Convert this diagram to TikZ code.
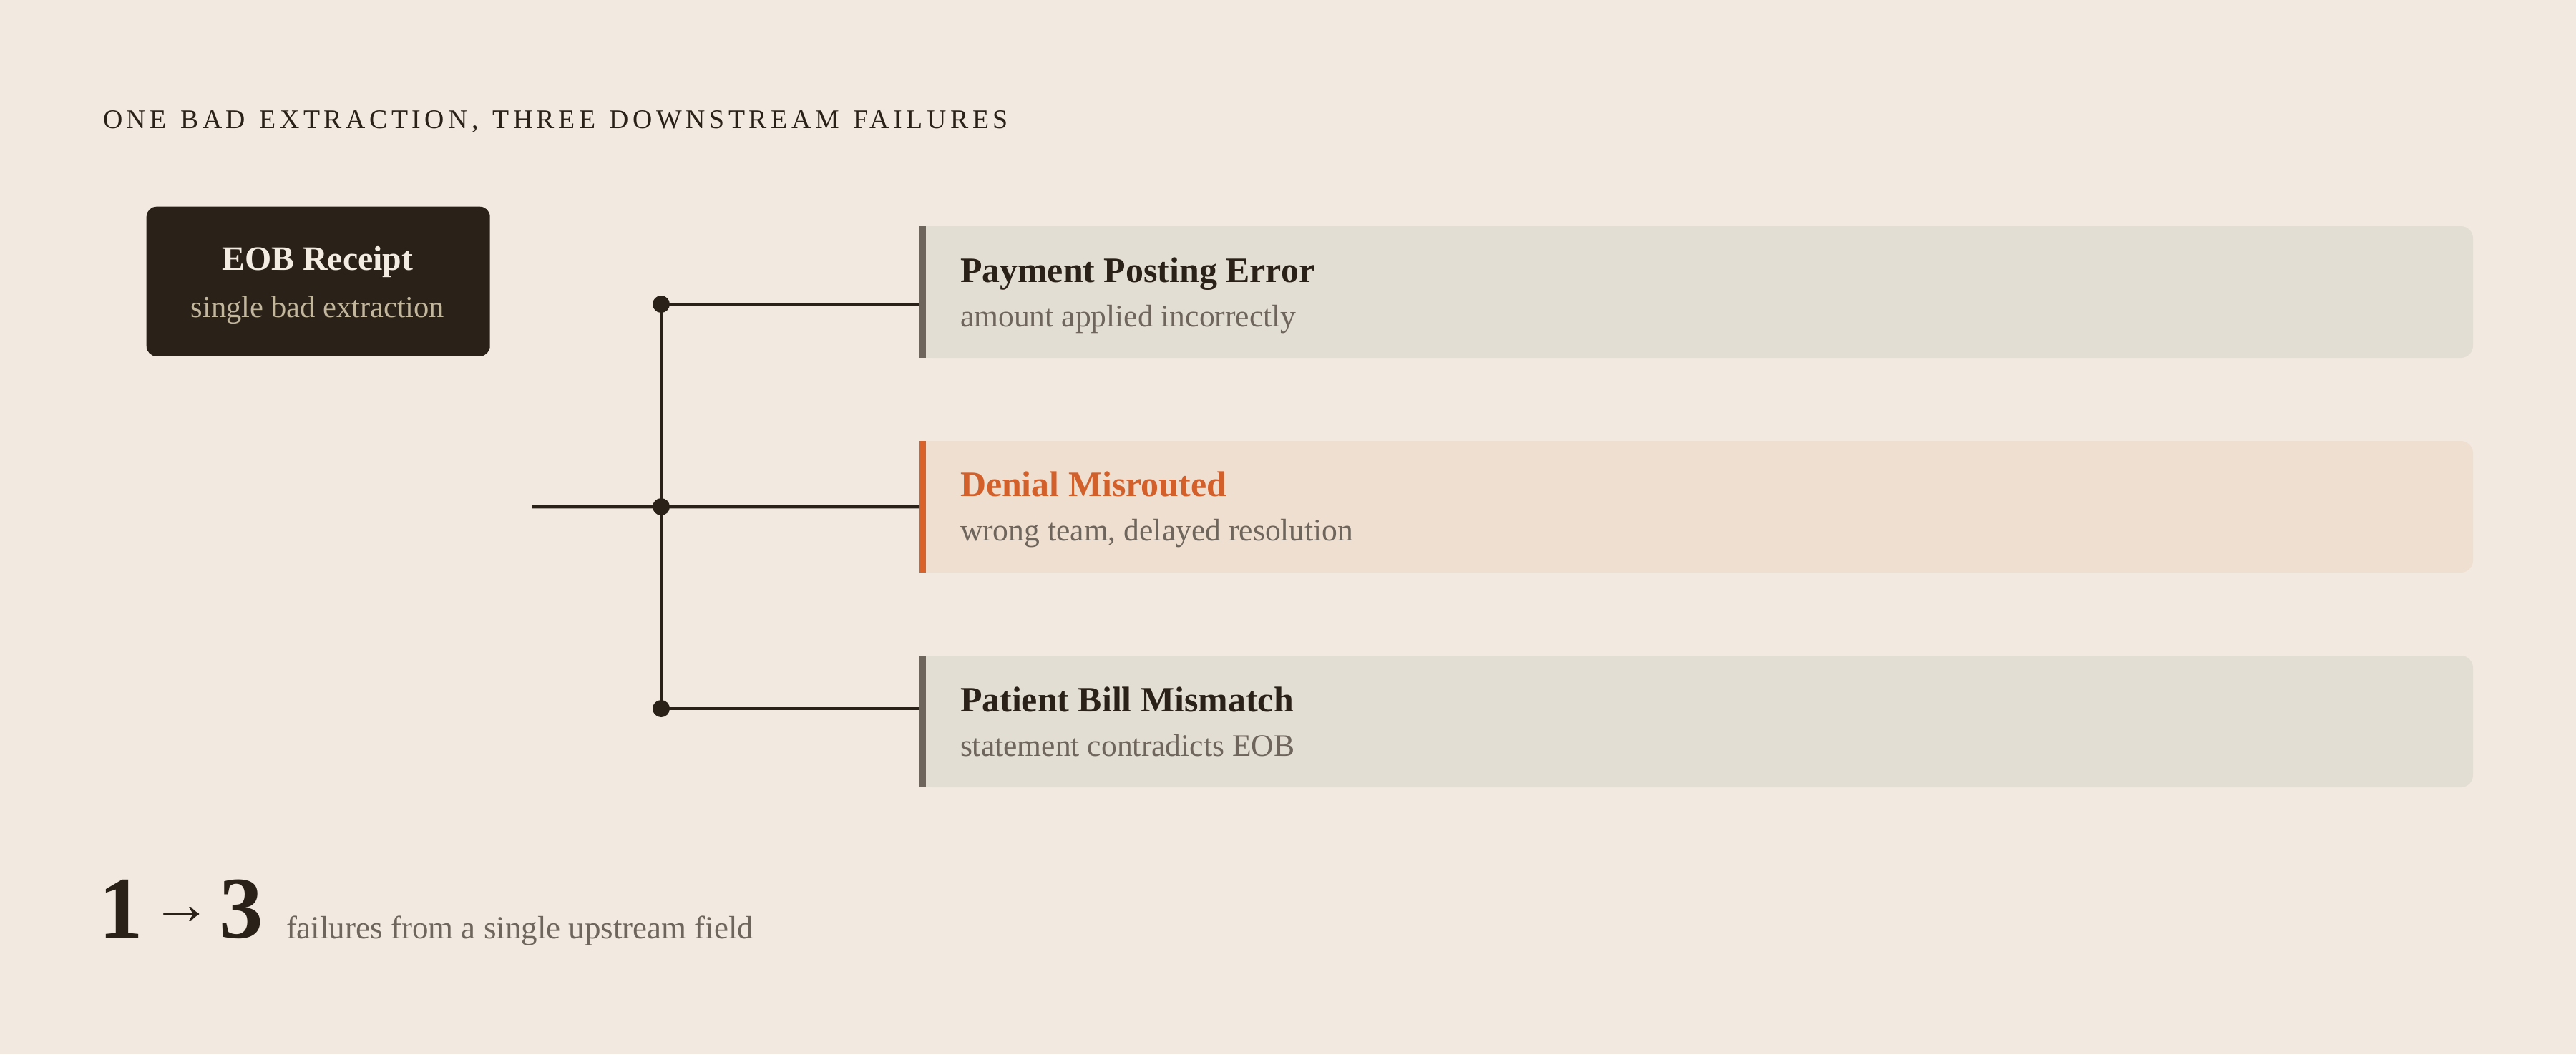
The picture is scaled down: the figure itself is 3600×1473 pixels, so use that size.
\documentclass[tikz,border=0pt]{standalone}
\usepackage{fontspec}
\setmainfont{Liberation Serif}
\newfontfamily\headfont[LetterSpace=14.7,WordSpace=1.3]{Liberation Serif}
\usetikzlibrary{calc}
\definecolor{bg}{HTML}{F2EAE1}
\definecolor{ink}{HTML}{2A2119}
\definecolor{cardgray}{HTML}{E2DED3}
\definecolor{cardorange}{HTML}{EFDFD0}
\definecolor{bargray}{HTML}{6E655C}
\definecolor{accent}{HTML}{D9622B}
\definecolor{accenttext}{HTML}{D35F2A}
\definecolor{subgray}{HTML}{6E655C}
\definecolor{tanline}{HTML}{C2B79C}
\definecolor{cream}{HTML}{F3ECE3}
\begin{document}
\begin{tikzpicture}[x=0.1mm,y=-0.1mm,
  txt/.style={inner sep=0pt, outer sep=0pt, anchor=base west},
  cardbox/.style={inner sep=0pt, outer sep=0pt, anchor=north west, minimum width=217.1mm, minimum height=18.4mm},
  cardtitle/.style={txt, text=ink, font=\fontsize{14.2}{17}\selectfont\bfseries},
  cardsub/.style={txt, text=subgray, font=\fontsize{12.4}{15}\selectfont},
  wire/.style={draw=ink, line width=1.28pt},
  jdot/.style={circle, fill=ink, inner sep=0pt, outer sep=0pt, minimum size=2.4mm},
  eobbox/.style={inner sep=0pt, anchor=north west, minimum width=48mm, minimum height=20.9mm, fill=ink, rounded corners=1.4mm}
]
\fill[bg] (0,0) rectangle (3600,1473);
\useasboundingbox (0,0) rectangle (3600,1473);

% header
\node[txt, text=ink] (head) at (144,179) {\headfont\fontsize{10.75}{13}\selectfont ONE BAD EXTRACTION, THREE DOWNSTREAM FAILURES};

% source box
\node[eobbox] (eob) at (204,288) {};
\node[inner sep=0pt, anchor=base, text=cream, font=\fontsize{13.6}{16}\selectfont\bfseries] (eobT) at (444,377) {EOB Receipt};
\node[inner sep=0pt, anchor=base, text=tanline, font=\fontsize{12.1}{15}\selectfont] (eobS) at (444,443) {single bad extraction};

% cards
\node[cardbox] (pay) at (1285,316) {};
\node[cardbox] (den) at (1285,616) {};
\node[cardbox] (pat) at (1285,916) {};

\fill[cardgray, rounded corners=1.7mm] (pay.north west) rectangle (pay.south east);
\fill[cardgray] (pay.north west) rectangle ($(pay.south west)+(30,0)$);
\fill[bargray] (pay.north west) rectangle ($(pay.south west)+(9,0)$);

\fill[cardorange, rounded corners=1.7mm] (den.north west) rectangle (den.south east);
\fill[cardorange] (den.north west) rectangle ($(den.south west)+(30,0)$);
\fill[accent] (den.north west) rectangle ($(den.south west)+(9,0)$);

\fill[cardgray, rounded corners=1.7mm] (pat.north west) rectangle (pat.south east);
\fill[cardgray] (pat.north west) rectangle ($(pat.south west)+(30,0)$);
\fill[bargray] (pat.north west) rectangle ($(pat.south west)+(9,0)$);

\node[cardtitle] (payT) at ($(pay.north west)+(57,78)$) {Payment Posting Error};
\node[cardsub] (payS) at ($(pay.north west)+(57,140)$) {amount applied incorrectly};
\node[cardtitle, text=accenttext] (denT) at ($(den.north west)+(57,77)$) {Denial Misrouted};
\node[cardsub] (denS) at ($(den.north west)+(57,139)$) {wrong team, delayed resolution};
\node[cardtitle] (patT) at ($(pat.north west)+(57,78)$) {Patient Bill Mismatch};
\node[cardsub] (patS) at ($(pat.north west)+(57,140)$) {statement contradicts EOB};

% junctions and wires
\coordinate (stub) at (744,708);
\node[jdot] (jA) at (924,425) {};
\node[jdot] (jB) at (924,708) {};
\node[jdot] (jC) at (924,990) {};
\draw[wire] (stub) -- (den.west);
\draw[wire] (jA.center) -- (jC.center);
\draw[wire] (jA.center) -- (jA -| pay.west);
\draw[wire] (jC.center) -- (jC -| pat.west);

% footer
\node[txt, text=ink] (big) at (138,1310) {\fontsize{35}{40}\selectfont\bfseries\makebox[7.3mm][l]{1}\makebox[9.5mm][l]{\mdseries\fontsize{24}{28}\selectfont\raisebox{1.9mm}{→}}3};
\node[txt, text=subgray, font=\fontsize{12.8}{15}\selectfont] (foot) at (400,1311) {failures from a single upstream field};
\end{tikzpicture}
\end{document}
